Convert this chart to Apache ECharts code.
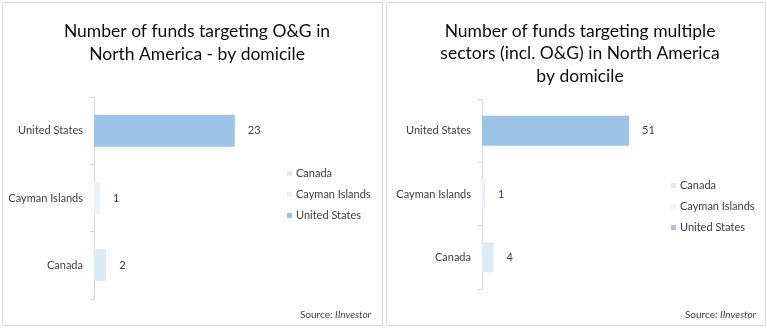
<!DOCTYPE html>
<html><head><meta charset="utf-8">
<script src="https://cdn.jsdelivr.net/npm/echarts@6/dist/echarts.min.js"></script>
<style>html,body{margin:0;padding:0;background:#fff}#c{width:767px;height:329px}</style>
</head><body><div id="c"></div>
<script>
var categories = ['Canada', 'Cayman Islands', 'United States'];
var leftValues = [2, 1, 23];
var rightValues = [4, 1, 51];
var leftTitle = 'Number of funds targeting O&G in\nNorth America - by domicile';
var rightTitle = 'Number of funds targeting multiple\nsectors (incl. O&G) in North America\nby domicile';
var sourceName = 'IInvestor';
var colors = ['#DDEBF7', '#EBF2FA', '#9DC3E6'];

var FONT = 'Lato';
var chart = echarts.init(document.getElementById('c'), null, {renderer: 'canvas'});

function makeSeries(values, idx) {
  return categories.map(function (name, ci) {
    var d = categories.map(function (_, k) { return k === ci ? values[k] : '-'; });
    return {
      type: 'bar', name: name, xAxisIndex: idx, yAxisIndex: idx,
      data: d, barWidth: idx === 0 ? 32 : 30, barGap: '-100%',
      itemStyle: {color: colors[ci]},
      label: {show: true, position: 'right', distance: 13, color: '#404040', fontSize: 11, fontFamily: FONT},
      emphasis: {disabled: true}, animation: false
    };
  });
}

function yAx(idx) {
  return {
    type: 'category', gridIndex: idx, data: categories,
    axisLine: {show: true, lineStyle: {color: '#D9D9D9'}},
    axisTick: {show: true, length: 4, lineStyle: {color: '#D9D9D9'}},
    axisLabel: {color: '#404040', fontSize: 11, fontFamily: FONT, margin: 11},
    splitLine: {show: false}
  };
}

var option = {
  animation: false,
  textStyle: {fontFamily: FONT},
  title: [
    {text: leftTitle, left: 192, top: 15, textAlign: 'center',
     textStyle: {fontSize: 17.5, fontWeight: 'normal', color: '#0d0d0d', fontFamily: FONT, lineHeight: 23}},
    {text: rightTitle, left: 575, top: 15, textAlign: 'center',
     textStyle: {fontSize: 17.5, fontWeight: 'normal', color: '#0d0d0d', fontFamily: FONT, lineHeight: 22.5}}
  ],
  legend: [
    {orient: 'vertical', left: 282, top: 163, icon: 'rect', itemWidth: 5, itemHeight: 5, itemGap: 10,
     data: categories, selectedMode: false,
     textStyle: {color: '#404040', fontSize: 11, fontFamily: FONT, padding: [0, 0, 0, -1]}},
    {orient: 'vertical', left: 666, top: 175, icon: 'rect', itemWidth: 5, itemHeight: 5, itemGap: 10,
     data: categories, selectedMode: false,
     textStyle: {color: '#404040', fontSize: 11, fontFamily: FONT, padding: [0, 0, 0, -1]}}
  ],
  grid: [
    {left: 94, top: 97, width: 153, height: 202},
    {left: 482, top: 99, width: 173, height: 190}
  ],
  xAxis: [
    {type: 'value', gridIndex: 0, min: 0, max: 25, show: false},
    {type: 'value', gridIndex: 1, min: 0, max: 60, show: false}
  ],
  yAxis: [yAx(0), yAx(1)],
  series: makeSeries(leftValues, 0).concat(makeSeries(rightValues, 1)),
  graphic: [
    {type: 'rect', shape: {x: 2.5, y: 2.5, width: 380, height: 323}, style: {fill: 'none', stroke: '#D9D9D9', lineWidth: 1}, z: -1},
    {type: 'rect', shape: {x: 386.5, y: 2.5, width: 379, height: 323}, style: {fill: 'none', stroke: '#D9D9D9', lineWidth: 1}, z: -1},
    {type: 'text', right: 767 - 371, top: 310,
     style: {text: 'Source: {i|' + sourceName + '}', fill: '#404040', font: '10px ' + FONT,
       rich: {i: {fontStyle: 'italic', fontSize: 10, fontFamily: FONT, fill: '#404040'}}}},
    {type: 'text', right: 767 - 756, top: 310,
     style: {text: 'Source: {i|' + sourceName + '}', fill: '#404040', font: '10px ' + FONT,
       rich: {i: {fontStyle: 'italic', fontSize: 10, fontFamily: FONT, fill: '#404040'}}}}
  ]
};
chart.setOption(option);
</script></body></html>
